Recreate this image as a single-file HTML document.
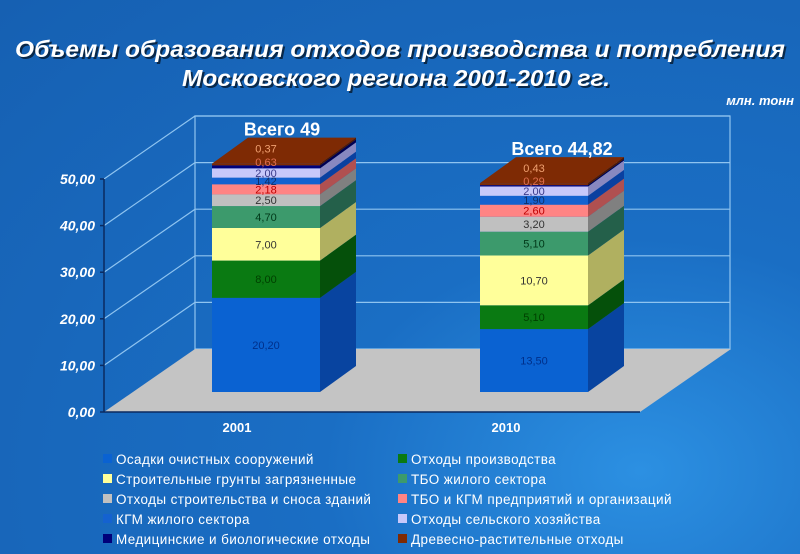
<!DOCTYPE html>
<html><head><meta charset="utf-8">
<style>
body{margin:0;width:800px;height:554px;overflow:hidden;font-family:"Liberation Sans",sans-serif;}
#bg{position:absolute;left:0;top:0;width:800px;height:554px;background:radial-gradient(ellipse at 80% 85%,#2c90e2 0%,#1a6ec4 35%,#1660b2 100%);}
svg{position:absolute;left:0;top:0;}
</style></head>
<body>
<div id="bg"></div>
<svg id="chart" width="800" height="554">
  <text x="402" y="59" text-anchor="middle" font-size="23" font-weight="bold" font-style="italic" fill="#000" opacity="0.6" textLength="770" lengthAdjust="spacingAndGlyphs">Объемы образования отходов производства и потребления</text>
  <text x="400" y="57" text-anchor="middle" font-size="23" font-weight="bold" font-style="italic" fill="#fff" textLength="770" lengthAdjust="spacingAndGlyphs">Объемы образования отходов производства и потребления</text>
  <text x="398" y="88" text-anchor="middle" font-size="23" font-weight="bold" font-style="italic" fill="#000" opacity="0.6" textLength="428" lengthAdjust="spacingAndGlyphs">Московского региона 2001-2010 гг.</text>
  <text x="396" y="86" text-anchor="middle" font-size="23" font-weight="bold" font-style="italic" fill="#fff" textLength="428" lengthAdjust="spacingAndGlyphs">Московского региона 2001-2010 гг.</text>
  <text x="794" y="105" text-anchor="end" font-size="13" font-weight="bold" font-style="italic" fill="#fff">млн. тонн</text>
  <g id="plot"></g>
  <g id="legend"></g>
</svg>
<script>
const categories=["2001","2010"];
const totals=["Всего 49","Всего 44,82"];
const seriesNames=["Осадки очистных сооружений","Отходы производства","Строительные грунты загрязненные","ТБО жилого сектора","Отходы строительства и сноса зданий","ТБО и КГМ предприятий и организаций","КГМ жилого сектора","Отходы сельского хозяйства","Медицинские и биологические отходы","Древесно-растительные отходы"];
const v2001=[20.20,8.00,7.00,4.70,2.50,2.18,1.42,2.00,0.63,0.37];
const v2010=[13.50,5.10,10.70,5.10,3.20,2.60,1.90,2.00,0.29,0.43];
const yTicks=[0,10,20,30,40,50];
const yTickLabels=["0,00","10,00","20,00","30,00","40,00","50,00"];

const colors=["#0a62d2","#0a7a12","#ffff9a","#3c9a6c","#c0c0c0","#ff8484","#1462d0","#c8c8fa","#00007a","#7e2a04"];
const sides=["#0844a0","#05500a","#b0b060","#24604a","#808080","#b05050","#0a40a0","#8888c0","#000050","#501800"];
const txtCol=["#00308a","#004000","#333","#003818","#333","#c00000","#10306a","#3a3a8a","#e07050","#f0a070"];
const NS="http://www.w3.org/2000/svg";
const plot=document.getElementById('plot');
const X0=104,Y0=412,K=4.66,DX=91,DY=-63;
function yF(v){return Y0-v*K;}
function mk(tag,attrs){const e=document.createElementNS(NS,tag);for(const k in attrs)e.setAttribute(k,attrs[k]);return e;}
let w=mk('rect',{x:X0+DX,y:yF(50)+DY,width:535,height:50*K,fill:"none",stroke:"#8fc4f0","stroke-width":1.2});


plot.appendChild(w);
let fl=mk('polygon',{points:`${X0},${Y0} ${X0+536},${Y0} ${X0+536+DX},${Y0+DY} ${X0+DX},${Y0+DY}`,fill:"#c4c4c4"});


plot.appendChild(fl);
yTicks.forEach((t,i)=>{
  const y=yF(t);
  if(t>0){
    let g=mk('polyline',{points:`${X0},${y} ${X0+DX},${y+DY} ${X0+DX+535},${y+DY}`,fill:"none",stroke:"#8fc4f0","stroke-width":1.2});
    
    
    plot.appendChild(g);
  }
  let tk=mk('line',{x1:X0-4,y1:y,x2:X0,y2:y,stroke:"#0a2a60","stroke-width":1.5});
  
  
  plot.appendChild(tk);
  let lb=mk('text',{x:X0-9,y:y+5,"text-anchor":"end","font-size":14,"font-weight":"bold","font-style":"italic",fill:"#fff"});
  lb.textContent=yTickLabels[i];
  
  
  plot.appendChild(lb);
});
let ax=mk('line',{x1:X0,y1:yF(0),x2:X0,y2:yF(50),stroke:"#0a2a60","stroke-width":1.5});


plot.appendChild(ax);
let ax2=mk('line',{x1:X0,y1:Y0,x2:X0+536,y2:Y0,stroke:"#0a2a60","stroke-width":1.5});


plot.appendChild(ax2);

const vals=[v2001,v2010];
const barX=[212,480],BW=108,BASE=392,BDX=36,BDY=-26;
vals.forEach((arr,ci)=>{
  const x=barX[ci];let cum=0;
  arr.forEach((v,si)=>{
    const yb=BASE-cum*K,yt=BASE-(cum+v)*K;
    let r=mk('rect',{x:x,y:yt,width:BW,height:yb-yt,fill:colors[si]});
    
    
    plot.appendChild(r);
    let s=mk('polygon',{points:`${x+BW},${yb} ${x+BW+BDX},${yb+BDY} ${x+BW+BDX},${yt+BDY} ${x+BW},${yt}`,fill:sides[si]});
    
    
    plot.appendChild(s);
    cum+=v;
  });
  const yt=BASE-cum*K;
  let top=mk('polygon',{points:`${x},${yt} ${x+BW},${yt} ${x+BW+BDX},${yt+BDY} ${x+BDX},${yt+BDY}`,fill:colors[9]});
  
  
  plot.appendChild(top);
  cum=0;
  arr.forEach((v,si)=>{
    let yc=BASE-(cum+v/2)*K+4;
    if(si==8) yc=BASE-(cum+v/2)*K-1;
    if(si==9) yc=BASE-(cum)*K-13;
    let t=mk('text',{x:x+BW/2,y:yc,"text-anchor":"middle","font-size":11,fill:txtCol[si]});
    t.textContent=v.toFixed(2).replace('.',',');
    
    
    plot.appendChild(t);
    cum+=v;
  });
  let tt=mk('text',{x:x+BW/2+[16,28][ci],y:yt+BDY-2,"text-anchor":"middle","font-size":18,"font-weight":"bold",fill:"#fff"});
  tt.textContent=totals[ci];
  
  
  plot.appendChild(tt);
  let cl=mk('text',{x:[237,506][ci],y:432,"text-anchor":"middle","font-size":13,"font-weight":"bold",fill:"#fff"});
  cl.textContent=categories[ci];
  
  
  plot.appendChild(cl);
});
const leg=document.getElementById('legend');
seriesNames.forEach((nm,si)=>{
  const col=si%2,row=Math.floor(si/2);
  const lx=[103,398][col],ly=464+row*20;
  let sw=mk('rect',{x:lx,y:ly-10,width:9,height:9,fill:colors[si]});
  
  
  leg.appendChild(sw);
  let t=mk('text',{x:lx+13,y:ly,"font-size":13.5,fill:"#fff","letter-spacing":"0.4"});
  t.textContent=nm;
  
  
  leg.appendChild(t);
});
</script>
</body></html>
